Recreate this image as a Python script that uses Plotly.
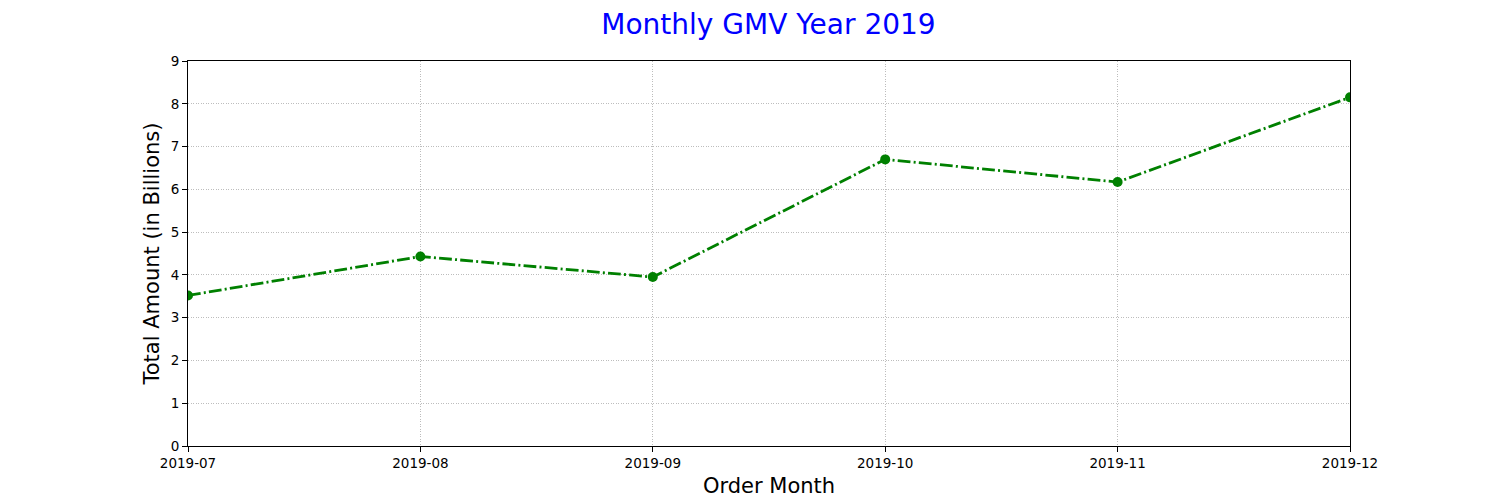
import plotly.graph_objects as go

months = ["2019-07", "2019-08", "2019-09", "2019-10", "2019-11", "2019-12"]
gmv_billions = [3.52, 4.43, 3.95, 6.70, 6.17, 8.15]
y_ticks = [0, 1, 2, 3, 4, 5, 6, 7, 8, 9]

FONT = "DejaVu Sans"

trace = go.Scatter(
    x=months,
    y=gmv_billions,
    mode="lines+markers",
    line=dict(color="#008000", width=2.8, dash="12.8px,3.2px,2px,3.2px"),
    marker=dict(color="#008000", size=10),
    cliponaxis=True,
    showlegend=False,
)

axis_common = dict(
    showline=True,
    linecolor="black",
    linewidth=1,
    mirror=True,
    ticks="outside",
    ticklen=5,
    tickcolor="black",
    tickfont=dict(family=FONT, size=13.5, color="black"),
    showgrid=True,
    gridcolor="#bdbdbd",
    gridwidth=0.6,
    griddash="1px,1.5px",
    zeroline=False,
)

layout = go.Layout(
    width=1500,
    height=500,
    paper_bgcolor="white",
    plot_bgcolor="white",
    margin=dict(l=180, r=158, t=53, b=62),
    title=dict(
        text="Monthly GMV Year 2019",
        font=dict(family=FONT, size=28, color="blue"),
        x=0.507,
        xanchor="center",
        y=0.968,
        yanchor="middle",
    ),
    xaxis=dict(
        axis_common,
        type="category",
        range=[0, len(months) - 1],
        title=dict(text="Order Month", font=dict(family=FONT, size=21, color="black"), standoff=8),
    ),
    yaxis=dict(
        axis_common,
        range=[0, 9],
        tickvals=y_ticks,
        title=dict(text="Total Amount (in Billions)", font=dict(family=FONT, size=21, color="black"), standoff=5),
    ),
)

fig = go.Figure(data=[trace], layout=layout)
fig.write_html("out.html")
